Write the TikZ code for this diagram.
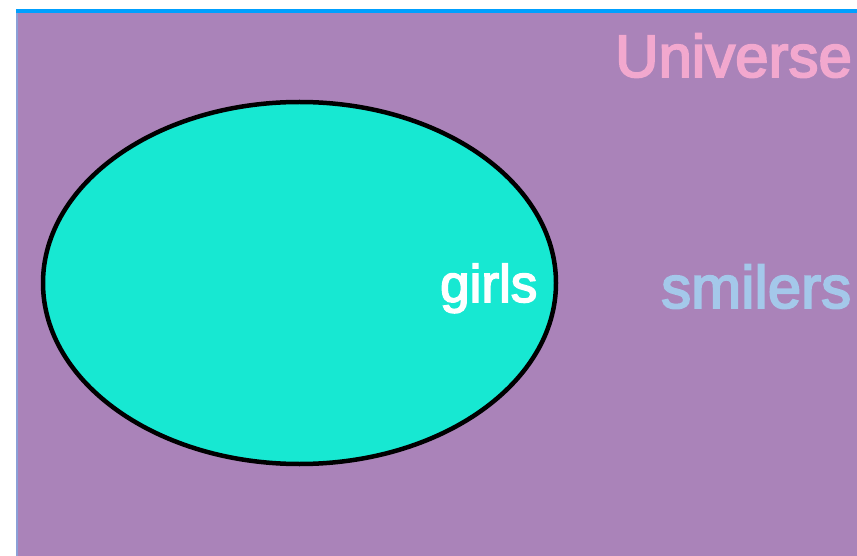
\documentclass[tikz,border=0pt]{standalone}
\usepackage{fontspec}
\setmainfont{Liberation Sans}
\newfontfamily\vennfont[FakeBold=3]{Liberation Sans}
\usetikzlibrary{shapes.geometric}
\definecolor{VennPurple}{RGB}{170,131,185}
\definecolor{VennCyan}{RGB}{23,232,210}
\definecolor{VennPink}{RGB}{242,168,206}
\definecolor{VennSky}{RGB}{164,200,234}
\definecolor{VennBlue}{RGB}{0,160,255}
\definecolor{VennEdge}{RGB}{140,160,215}
\tikzset{
  venn/universe/.style={fill=VennPurple, draw=none},
  venn/set/.style={ellipse, draw=black, line width=4.5pt, fill=VennCyan,
    minimum width=513pt, minimum height=362pt, inner sep=0pt},
  venn/label/.style={anchor=base west, inner sep=0pt,
    font=\vennfont\fontsize{60}{63}\selectfont},
  venn/setlabel/.style={anchor=base west, inner sep=0pt,
    font=\vennfont\fontsize{53}{56}\selectfont, text=white}
}
\begin{document}
\begin{tikzpicture}[x=1pt,y=-1pt]
  \useasboundingbox (0,0) rectangle (857,556);
  % universe
  \fill[venn/universe] (16,11) rectangle (857,556);
  \draw[VennEdge, line width=1.5pt] (16.75,11) -- (16.75,556);
  \draw[VennBlue, line width=4pt] (16,11) -- (857,11);
  \node[venn/label, text=VennPink] (universe) at (615,77) {Universe};
  % set of girls
  \node[venn/set] (girls) at (299.5,283) {};
  \node[venn/setlabel] (girlslabel) at (440,302) {girls};
  \node[venn/label, text=VennSky] (smilers) at (661,308) {smilers};
\end{tikzpicture}
\end{document}
